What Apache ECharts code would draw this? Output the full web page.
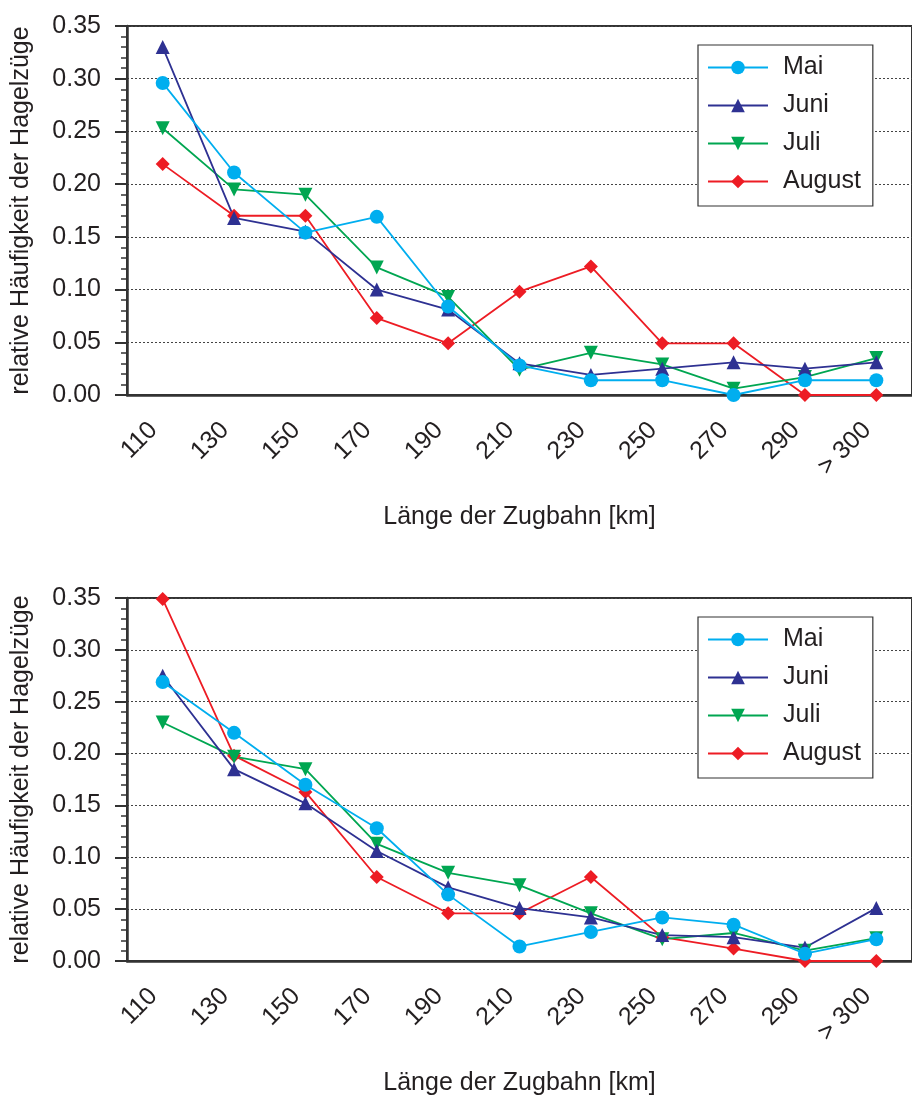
<!DOCTYPE html>
<html>
<head>
<meta charset="utf-8">
<script src="https://cdn.jsdelivr.net/npm/echarts@6/dist/echarts.min.js"></script>
<style>
html,body{margin:0;padding:0;background:#fff;}
#c{width:912px;height:1097px;}
</style>
</head>
<body>
<div id="c"></div>
<script>
const categories = ['110','130','150','170','190','210','230','250','270','290','> 300'];
const seriesNames = ['Mai','Juni','Juli','August'];
const yTicks = [0, 0.05, 0.10, 0.15, 0.20, 0.25, 0.30, 0.35];

// upper panel
const mai1  = [0.296, 0.211, 0.154, 0.169, 0.084, 0.028, 0.014, 0.014, 0.000, 0.014, 0.014];
const juni1 = [0.330, 0.168, 0.155, 0.100, 0.081, 0.030, 0.019, 0.025, 0.031, 0.025, 0.031];
const juli1 = [0.253, 0.195, 0.190, 0.121, 0.093, 0.024, 0.040, 0.029, 0.006, 0.017, 0.035];
const aug1  = [0.219, 0.170, 0.170, 0.073, 0.049, 0.098, 0.122, 0.049, 0.049, 0.000, 0.000];

// lower panel
const mai2  = [0.269, 0.220, 0.170, 0.128, 0.064, 0.014, 0.028, 0.042, 0.035, 0.007, 0.021];
const juni2 = [0.275, 0.185, 0.152, 0.106, 0.071, 0.051, 0.042, 0.025, 0.023, 0.013, 0.051];
const juli2 = [0.230, 0.197, 0.185, 0.113, 0.085, 0.073, 0.046, 0.021, 0.027, 0.010, 0.022];
const aug2  = [0.349, 0.198, 0.163, 0.081, 0.046, 0.046, 0.081, 0.023, 0.012, 0.000, 0.000];

const colors = {Mai:'#00AEEF', Juni:'#2E3192', Juli:'#00A651', August:'#ED1C24'};
const DIAMOND = 'path://M0,-1L1,0L0,1L-1,0Z';
const symbols = {Mai:['circle',0], Juni:['triangle',0], Juli:['triangle',180], August:[DIAMOND,0]};

const FONT = '"Liberation Sans", Arial, Helvetica, sans-serif';
const TXT = '#231F20';

const gridTops = [26, 598];
const panels = [
  {Mai:mai1, Juni:juni1, Juli:juli1, August:aug1},
  {Mai:mai2, Juni:juni2, Juli:juli2, August:aug2}
];

const grids = [], xAxes = [], yAxes = [], series = [], legends = [];
gridTops.forEach((top, i) => {
  grids.push({left:127, top:top, width:794, height:369, show:true, borderColor:'#333', borderWidth:2, backgroundColor:'transparent'});
  xAxes.push({
    type:'category', gridIndex:i, data:categories, boundaryGap:true,
    name:'Länge der Zugbahn [km]', nameLocation:'middle', nameGap:110,
    nameTextStyle:{fontFamily:FONT, fontSize:25, color:TXT},
    axisLine:{lineStyle:{color:'#333', width:2.5}},
    axisTick:{alignWithLabel:true, length:13, lineStyle:{color:'#333', width:2}},
    axisLabel:{rotate:45, fontFamily:FONT, fontSize:25, color:TXT, margin:22, padding:[0,13,0,0]},
    splitLine:{show:false}
  });
  yAxes.push({
    type:'value', gridIndex:i, min:yTicks[0], max:yTicks[yTicks.length-1], interval:0.05,
    name:'relative Häufigkeit der Hagelzüge', nameLocation:'middle', nameGap:93,
    nameTextStyle:{fontFamily:FONT, fontSize:25, color:TXT},
    axisLine:{show:true, lineStyle:{color:'#333', width:2.5}},
    axisTick:{show:true, length:12, lineStyle:{color:'#333', width:2}},
    minorTick:{show:true, splitNumber:5, length:6, lineStyle:{color:'#333', width:1.5}},
    axisLabel:{fontFamily:FONT, fontSize:25, color:TXT, margin:26, formatter:v => v.toFixed(2)},
    splitLine:{show:true, lineStyle:{color:'#444', width:1, type:[2,2]}}
  });
  ['August','Juli','Juni','Mai'].forEach(name => {
    series.push({
      name:name, type:'line', xAxisIndex:i, yAxisIndex:i,
      data:panels[i][name],
      symbol:symbols[name][0], symbolRotate:symbols[name][1], symbolSize:14,
      showAllSymbol:true,
      lineStyle:{color:colors[name], width:1.8},
      itemStyle:{color:colors[name]},
      z: 3,
      animation:false
    });
  });
  legends.push({
    data:seriesNames, orient:'vertical', left:698, top:top+19,
    backgroundColor:'#fff', borderColor:'#333', borderWidth:1.2, borderRadius:0,
    padding:[9,12,11,9], itemGap:11, itemWidth:60, itemHeight:17,
    textStyle:{fontFamily:FONT, fontSize:25, color:TXT, padding:[0,0,0,10], lineHeight:27},
    selectedMode:false
  });
});

const chart = echarts.init(document.getElementById('c'), null, {renderer:'canvas'});
chart.setOption({
  animation:false,
  color:seriesNames.map(n => colors[n]),
  grid:grids, xAxis:xAxes, yAxis:yAxes, series:series, legend:legends
});
</script>
</body>
</html>
